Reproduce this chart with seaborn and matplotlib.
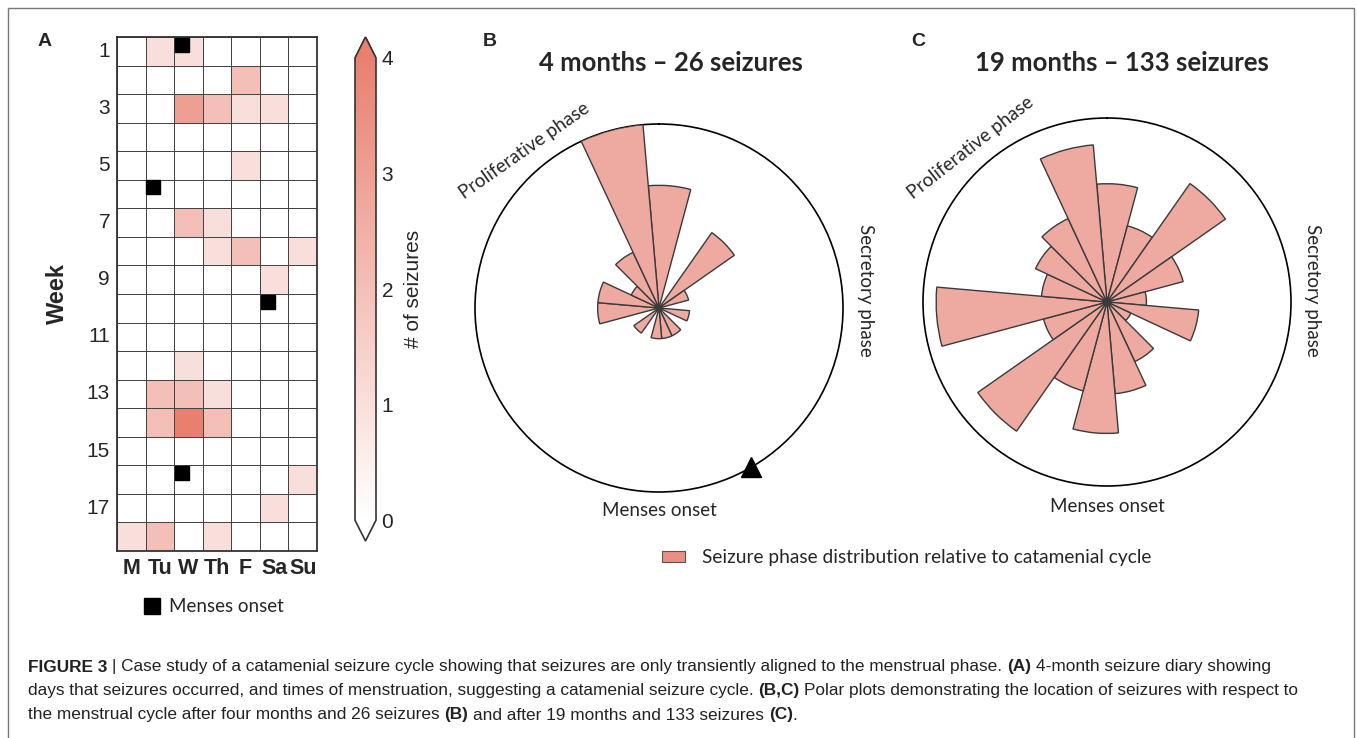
import numpy as np
import seaborn as sns
import matplotlib.pyplot as plt
from matplotlib.colors import LinearSegmentedColormap
from matplotlib.patches import Rectangle, Patch
from matplotlib.lines import Line2D

# ---- data ----
days = ['M', 'Tu', 'W', 'Th', 'F', 'Sa', 'Su']
weeks = list(range(1, 19))

# seizures per day (rows = weeks 1..18, cols = M..Su)
seizure_counts = [
  [0, 1, 1, 0, 0, 0, 0],
  [0, 0, 0, 0, 2, 0, 0],
  [0, 0, 3, 2, 1, 1, 0],
  [0, 0, 0, 0, 0, 0, 0],
  [0, 0, 0, 0, 1, 0, 0],
  [0, 0, 0, 0, 0, 0, 0],
  [0, 0, 2, 1, 0, 0, 0],
  [0, 0, 0, 1, 2, 0, 1],
  [0, 0, 0, 0, 0, 1, 0],
  [0, 0, 0, 0, 0, 0, 0],
  [0, 0, 0, 0, 0, 0, 0],
  [0, 0, 1, 0, 0, 0, 0],
  [0, 2, 2, 1, 0, 0, 0],
  [0, 2, 4, 2, 0, 0, 0],
  [0, 0, 0, 0, 0, 0, 0],
  [0, 0, 0, 0, 0, 0, 1],
  [0, 0, 0, 0, 0, 1, 0],
  [1, 2, 0, 1, 0, 0, 0],
]

menses_weeks = [1, 6, 10, 16]
menses_days = ['W', 'Tu', 'Sa', 'W']

# phase bins (degrees, clockwise from top) and seizure counts per bin
phase_bins = [5, 25, 45, 65, 85, 105, 125, 145, 165, 185, 205, 225, 245, 265, 285, 305, 325, 345]
counts_4mo = [4, 0, 3, 1, 0, 1, 0, 1, 1, 1, 0, 1, 0, 2, 2, 1, 2, 6]
counts_19mo = [9, 6, 11, 6, 3, 7, 2, 5, 7, 10, 7, 12, 5, 13, 5, 6, 7, 12]
bin_width = 20
menses_phase = 150

# ---- style ----
sns.set_style('white')
plt.rcParams['font.family'] = ['Liberation Sans', 'DejaVu Sans']
CAL = ['Lato', 'DejaVu Sans']
BAR = '#eeaaa1'
EDGE = '#3a3a3a'

W, H = 1357, 738
fig = plt.figure(figsize=(W / 100, H / 100), dpi=100)

def box(l, t, r, b):
  return [l / W, 1 - b / H, (r - l) / W, (b - t) / H]

# ---- A: seizure diary heatmap ----
ax_hm = fig.add_axes(box(117, 37, 317, 551))
cax = fig.add_axes(box(355, 37, 376, 541))

cmap = LinearSegmentedColormap.from_list('seiz', ['#ffffff', '#e9806f'])
sns.heatmap(
  np.array(seizure_counts), ax=ax_hm, cbar_ax=cax, cmap=cmap, vmin=0, vmax=4,
  linewidths=0.6, linecolor='#444444',
  xticklabels=days, yticklabels=weeks,
  cbar_kws={'extend': 'both', 'extendfrac': 0.045, 'ticks': [0, 1, 2, 3, 4]}
)
for s in ax_hm.spines.values():
  s.set_visible(True)
  s.set_linewidth(1.3)
  s.set_color('#333333')

ax_hm.set_yticks(np.arange(0, 18, 2) + 0.5)
ax_hm.set_yticklabels(weeks[::2], rotation=0, fontsize=15)
ax_hm.set_xticklabels(days, rotation=0, fontsize=15.5, fontweight='bold')
ax_hm.tick_params(length=0, pad=5)
ax_hm.set_ylabel('Week', fontsize=17, fontweight='bold', labelpad=13)

mx = [days.index(d) + 0.27 for d in menses_days]
my = [weeks.index(w) + 0.27 for w in menses_weeks]
ax_hm.scatter(mx, my, marker='s', s=95, color='black', zorder=5, clip_on=False)

cbar = ax_hm.collections[0].colorbar
cbar.outline.set_linewidth(1.2)
cbar.outline.set_edgecolor('#333333')
cax.tick_params(length=0, labelsize=15, pad=4)
cbar.set_label('# of seizures', fontsize=15, labelpad=8)

fig.legend(
  handles=[Line2D([], [], marker='s', color='black', ls='', markersize=11)],
  labels=['Menses onset'], loc='center left',
  bbox_to_anchor=(124 / W, 1 - 607 / H), frameon=False,
  prop={'family': CAL, 'size': 13.5}, handletextpad=0.3, handlelength=1.2
)

# ---- B, C: polar phase plots ----
def rose(ax, counts, rmax):
  ax.bar(np.deg2rad(phase_bins), counts, width=np.deg2rad(bin_width),
         color=BAR, edgecolor=EDGE, linewidth=1, zorder=3)
  ax.set_theta_zero_location('N')
  ax.set_theta_direction(-1)
  ax.set_ylim(0, rmax)
  ax.set_xticks([])
  ax.set_yticks([])
  ax.grid(False)
  ax.spines['polar'].set_linewidth(1.2)
  ax.spines['polar'].set_color('black')
  ax.set_facecolor('none')

ax_b = fig.add_axes(box(475, 124, 843, 492), projection='polar')
rose(ax_b, counts_4mo, 6)
ax_b.plot(np.deg2rad(menses_phase), 6, marker='^', ms=14, color='black',
          clip_on=False, zorder=6)

ax_c = fig.add_axes(box(923, 118, 1291, 486), projection='polar')
rose(ax_c, counts_19mo, 14)

def ftext(x, y, s, **kw):
  fig.text(x / W, 1 - y / H, s, ha='center', va='center', **kw)

ftext(671, 63, '4 months – 26 seizures', family=CAL, fontsize=18.5, fontweight='bold')
ftext(1122, 63, '19 months – 133 seizures', family=CAL, fontsize=18.5, fontweight='bold')

for cx, prol_xy, prol_rot, sec_x, men_y in [
  (659, (524, 151), 35, 866, 510),
  (1107, (971, 148), 38, 1313, 507),
]:
  ftext(*prol_xy, 'Proliferative phase', family=CAL, fontsize=13.5,
        rotation=prol_rot, rotation_mode='anchor')
  ftext(sec_x, 290, 'Secretory phase', family=CAL, fontsize=13.5, rotation=270)
  ftext(cx, men_y, 'Menses onset', family=CAL, fontsize=13.5)

fig.legend(
  handles=[Patch(facecolor='#e98f84', edgecolor='#555555', linewidth=0.8)],
  labels=['Seizure phase distribution relative to catamenial cycle'],
  loc='center left', bbox_to_anchor=(645 / W, 1 - 558 / H), frameon=False,
  prop={'family': CAL, 'size': 13.8}, handlelength=1.2, handleheight=0.55,
  handletextpad=0.9
)

# panel letters
for x, s in [(45, 'A'), (490, 'B'), (918, 'C')]:
  ftext(x, 42, s, fontsize=14, fontweight='bold')

# ---- caption ----
renderer = fig.canvas.get_renderer()
CAP = dict(fontsize=12.4, color='#222222', va='center')

def width(s, bold=False):
  t = fig.text(0, 0, s, fontweight='bold' if bold else 'normal', **CAP)
  w = t.get_window_extent(renderer).width
  t.remove()
  return w

space = width('a a') - width('aa')

def caption_line(y, parts):
  x = 28
  for text, bold, gap in parts:
    t = fig.text(x / W, 1 - y / H, text, fontweight='bold' if bold else 'normal', **CAP)
    x += t.get_window_extent(renderer).width + (space if gap else 0)

caption_line(667, [
  ('FIGURE 3', True, True),
  ('| Case study of a catamenial seizure cycle showing that seizures are only transiently aligned to the menstrual phase.', False, True),
  ('(A)', True, True),
  ('4-month seizure diary showing', False, False),
])
caption_line(691, [
  ('days that seizures occurred, and times of menstruation, suggesting a catamenial seizure cycle.', False, True),
  ('(B,C)', True, True),
  ('Polar plots demonstrating the location of seizures with respect to', False, False),
])
caption_line(715, [
  ('the menstrual cycle after four months and 26 seizures', False, True),
  ('(B)', True, True),
  ('and after 19 months and 133 seizures', False, True),
  ('(C)', True, False),
  ('.', False, False),
])

# outer frame
fig.add_artist(Rectangle((7.5 / W, -0.02), 1346 / W, 1 - 8 / H + 0.02,
                         transform=fig.transFigure, fill=False,
                         edgecolor='#777777', linewidth=1))

fig.savefig('out.png', dpi=100)
